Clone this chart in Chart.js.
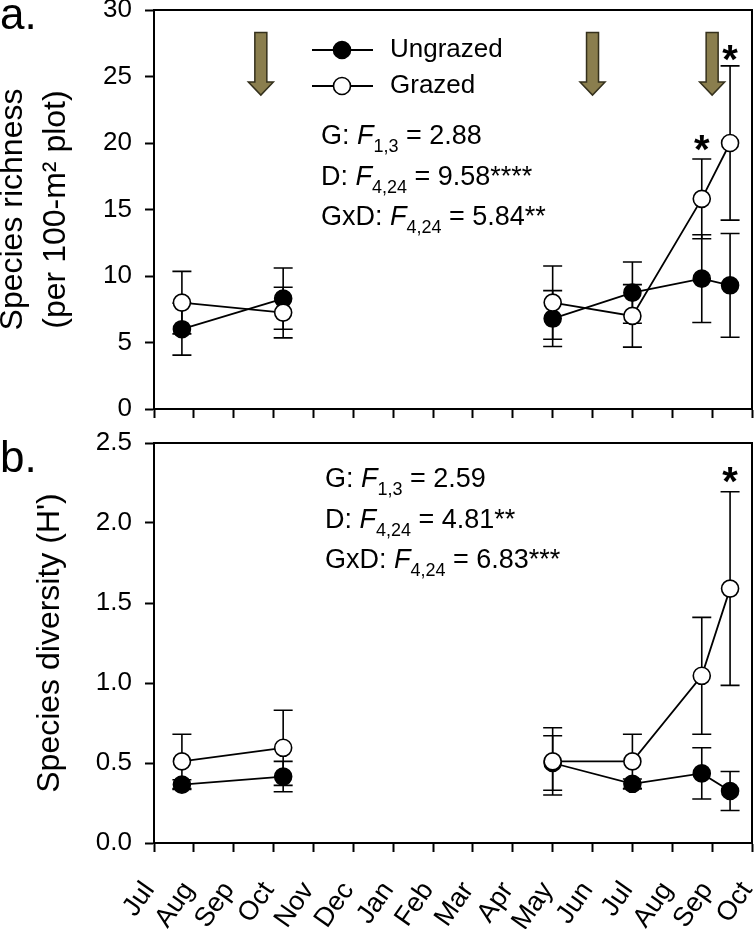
<!DOCTYPE html>
<html lang="en">
<head>
<meta charset="UTF-8">
<title>Species richness and diversity, grazed vs ungrazed</title>
<script src="https://cdn.jsdelivr.net/npm/chart.js@4"></script>
<style>
  body { margin: 0; background: #fff; }
  #wrap { position: relative; width: 754px; height: 929px; }
  canvas { position: absolute; left: 0; }
  #richness { top: 0; }
  #diversity { top: 415px; }
</style>
</head>
<body>
<div id="wrap">
  <canvas id="richness" width="754" height="440"></canvas>
  <canvas id="diversity" width="754" height="514"></canvas>
</div>
<script>
// month ticks, x = months since the first July
const months = ['Jul', 'Aug', 'Sep', 'Oct', 'Nov', 'Dec', 'Jan', 'Feb', 'Mar', 'Apr', 'May', 'Jun', 'Jul', 'Aug', 'Sep', 'Oct'];
const sampleX = [0.7, 3.24, 10.0, 12.0, 13.74, 14.45];

// panel a: species richness (mean, SE)
const richUngrazed = [6.0, 8.3, 6.8, 8.75, 9.8, 9.3];
const richUngrazedSE = [1.95, 2.3, 2.1, 2.3, 3.3, 3.9];
const richGrazed = [8.0, 7.25, 8.0, 7.0, 15.8, 20.0];
const richGrazedSE = [2.35, 1.9, 2.75, 2.35, 3.0, 5.8];

// panel b: species diversity H' (mean, SE)
const divUngrazed = [0.365, 0.415, 0.50, 0.37, 0.435, 0.325];
const divUngrazedSE = [0.03, 0.095, 0.17, 0.03, 0.16, 0.122];
const divGrazed = [0.51, 0.595, 0.51, 0.51, 1.045, 1.59];
const divGrazedSE = [0.17, 0.235, 0.21, 0.17, 0.365, 0.605];

// grazing events (arrows, drawn in richness units) and significance marks
const arrowX = [2.68, 11.0, 14.0];
const arrowSpan = [28.3, 23.6];
const richStarX = [13.74, 14.45];
const richStarY = [20.2, 27.0];
const divStarX = [14.45];
const divStarY = [2.32];

// ANOVA lines: label, F, df, rest
const richStats = [['G: ', 'F', '1,3', ' = 2.88'], ['D: ', 'F', '4,24', ' = 9.58****'], ['GxD: ', 'F', '4,24', ' = 5.84**']];
const divStats = [['G: ', 'F', '1,3', ' = 2.59'], ['D: ', 'F', '4,24', ' = 4.81**'], ['GxD: ', 'F', '4,24', ' = 6.83***']];

const FAMILY = "'Liberation Sans', Arial, Helvetica, sans-serif";
const INK = '#000';
Chart.defaults.font.family = FAMILY;
Chart.defaults.color = INK;

function points(ys) {
  return ys.map((y, i) => ({x: sampleX[i], y: y}));
}

function series(label, ys, filled, order) {
  return {
    label: label,
    data: points(ys),
    order: order,
    borderColor: INK,
    borderWidth: 1.8,
    pointRadius: 8.5,
    pointHoverRadius: 8.5,
    pointBorderWidth: 1.6,
    pointBorderColor: INK,
    pointBackgroundColor: filled ? INK : '#fff',
    tension: 0,
    // no line across the winter gap
    segment: { borderColor: c => c.p0DataIndex === 1 ? 'rgba(0,0,0,0)' : INK }
  };
}

function drawStats(ctx, lines, x0, y0, dy) {
  lines.forEach((p, i) => {
    const y = y0 + i * dy;
    let x = x0;
    const runs = [[p[0], '27px', 0], [p[1], 'italic 27px', 0], [p[2], '18px', 8], [p[3], '27px', 0]];
    runs.forEach(r => {
      ctx.font = r[1] + ' ' + FAMILY;
      ctx.fillText(r[0], x, y + r[2]);
      x += ctx.measureText(r[0]).width;
    });
  });
}

const extras = {
  id: 'extras',
  beforeDatasetsDraw(chart, args, o) {
    const {ctx, scales: {x, y}} = chart;
    ctx.save();
    ctx.strokeStyle = INK;
    ctx.lineWidth = 1.6;
    o.bars.forEach(b => b[0].forEach((m, i) => {
      const px = x.getPixelForValue(sampleX[i]);
      const hi = y.getPixelForValue(m + b[1][i]);
      const lo = y.getPixelForValue(m - b[1][i]);
      ctx.beginPath();
      ctx.moveTo(px, hi); ctx.lineTo(px, lo);
      ctx.moveTo(px - 9.5, hi); ctx.lineTo(px + 9.5, hi);
      ctx.moveTo(px - 9.5, lo); ctx.lineTo(px + 9.5, lo);
      ctx.stroke();
    }));
    ctx.restore();
  },
  afterDatasetsDraw(chart, args, o) {
    const {ctx, chartArea: a, scales: {x, y}} = chart;
    ctx.save();
    // top and right of the frame
    ctx.strokeStyle = INK;
    ctx.lineWidth = 2;
    ctx.beginPath();
    ctx.moveTo(a.left, a.top); ctx.lineTo(a.right, a.top); ctx.lineTo(a.right, a.bottom);
    ctx.stroke();

    if (o.arrows) {
      ctx.fillStyle = '#8a7e4e';
      ctx.strokeStyle = '#34301c';
      ctx.lineWidth = 1.5;
      arrowX.forEach(v => {
        const cx = x.getPixelForValue(v);
        const top = y.getPixelForValue(arrowSpan[0]);
        const tip = y.getPixelForValue(arrowSpan[1]);
        ctx.beginPath();
        ctx.moveTo(cx - 6, top); ctx.lineTo(cx + 6, top); ctx.lineTo(cx + 6, tip - 13);
        ctx.lineTo(cx + 12.5, tip - 13); ctx.lineTo(cx, tip); ctx.lineTo(cx - 12.5, tip - 13);
        ctx.lineTo(cx - 6, tip - 13); ctx.closePath();
        ctx.fill(); ctx.stroke();
      });
    }

    ctx.fillStyle = INK;
    ctx.font = 'bold 40px ' + FAMILY;
    ctx.textAlign = 'center';
    ctx.textBaseline = 'alphabetic';
    o.stars[0].forEach((v, i) => {
      ctx.fillText('*', x.getPixelForValue(v), y.getPixelForValue(o.stars[1][i]) + 23);
    });

    ctx.textAlign = 'left';
    drawStats(ctx, o.stats, a.left + o.statsAt[0], a.top + o.statsAt[1], o.statsAt[2]);

    if (o.legend) {
      const names = ['Ungrazed', 'Grazed'];
      names.forEach((n, i) => {
        const ly = a.top + 40 + i * 36;
        ctx.strokeStyle = INK;
        ctx.lineWidth = 1.8;
        ctx.beginPath();
        ctx.moveTo(a.left + 158, ly); ctx.lineTo(a.left + 219, ly);
        ctx.stroke();
        ctx.beginPath();
        ctx.arc(a.left + 188, ly, 8.5, 0, Math.PI * 2);
        ctx.fillStyle = i === 0 ? INK : '#fff';
        ctx.fill();
        ctx.lineWidth = 1.6;
        ctx.stroke();
        ctx.fillStyle = INK;
        ctx.font = '26px ' + FAMILY;
        ctx.textBaseline = 'middle';
        ctx.fillText(n, a.left + 236, ly);
      });
    }

    ctx.font = '44px ' + FAMILY;
    ctx.textBaseline = 'alphabetic';
    ctx.textAlign = 'left';
    ctx.fillText(o.letter[0], 0, o.letter[1]);
    ctx.restore();
  }
};

function makeChart(id, cfg) {
  return new Chart(document.getElementById(id), {
    type: 'line',
    data: { datasets: [series('Ungrazed', cfg.ungrazed, true, 1), series('Grazed', cfg.grazed, false, 0)] },
    options: {
      responsive: false,
      animation: false,
      devicePixelRatio: 1,
      layout: { autoPadding: false, padding: { left: 0, top: cfg.top, right: 2, bottom: 0 } },
      plugins: {
        legend: { display: false },
        tooltip: { enabled: false },
        extras: cfg.extras
      },
      scales: {
        x: {
          type: 'linear',
          min: 0,
          max: 15,
          afterFit: s => { s.height = cfg.xHeight; s.paddingLeft = 0; s.paddingRight = 0; },
          grid: { drawOnChartArea: false, tickLength: 9, tickWidth: 2, color: INK },
          border: { color: INK, width: 2 },
          ticks: {
            display: cfg.xLabels,
            stepSize: 1,
            autoSkip: false,
            maxRotation: 55,
            minRotation: 55,
            padding: 24,
            labelOffset: -5,
            font: { size: 27 },
            callback: v => months[v]
          }
        },
        y: {
          min: 0,
          max: cfg.yMax,
          afterFit: s => { s.width = 154; s.paddingTop = 0; s.paddingBottom = 0; },
          grid: { drawOnChartArea: false, tickLength: 9, tickWidth: 2, color: INK },
          border: { color: INK, width: 2 },
          ticks: {
            stepSize: cfg.yStep,
            padding: 13,
            font: { size: 26 },
            callback: cfg.yFormat
          },
          title: {
            display: true,
            text: cfg.yTitle,
            font: { size: 32, lineHeight: cfg.titleLine },
            padding: { top: cfg.titlePad, bottom: 0 }
          }
        }
      }
    },
    plugins: [extras]
  });
}

makeChart('richness', {
  ungrazed: richUngrazed, grazed: richGrazed,
  top: 10, xHeight: 31, xLabels: false,
  yMax: 30, yStep: 5, yFormat: v => v,
  yTitle: ['Species richness', '(per 100-m\u00b2 plot)'], titleLine: 1.35, titlePad: -8.5,
  extras: {
    bars: [[richUngrazed, richUngrazedSE], [richGrazed, richGrazedSE]],
    arrows: true,
    stars: [richStarX, richStarY],
    stats: richStats, statsAt: [167, 134, 40.5],
    legend: true,
    letter: ['a.', 29]
  }
});

makeChart('diversity', {
  ungrazed: divUngrazed, grazed: divGrazed,
  top: 28, xHeight: 86, xLabels: true,
  yMax: 2.5, yStep: 0.5, yFormat: v => v.toFixed(1),
  yTitle: "Species diversity (H')", titleLine: 1.2, titlePad: 31,
  extras: {
    bars: [[divUngrazed, divUngrazedSE], [divGrazed, divGrazedSE]],
    arrows: false,
    stars: [divStarX, divStarY],
    stats: divStats, statsAt: [171, 44, 40.5],
    legend: false,
    letter: ['b.', 57]
  }
});
</script>
</body>
</html>
